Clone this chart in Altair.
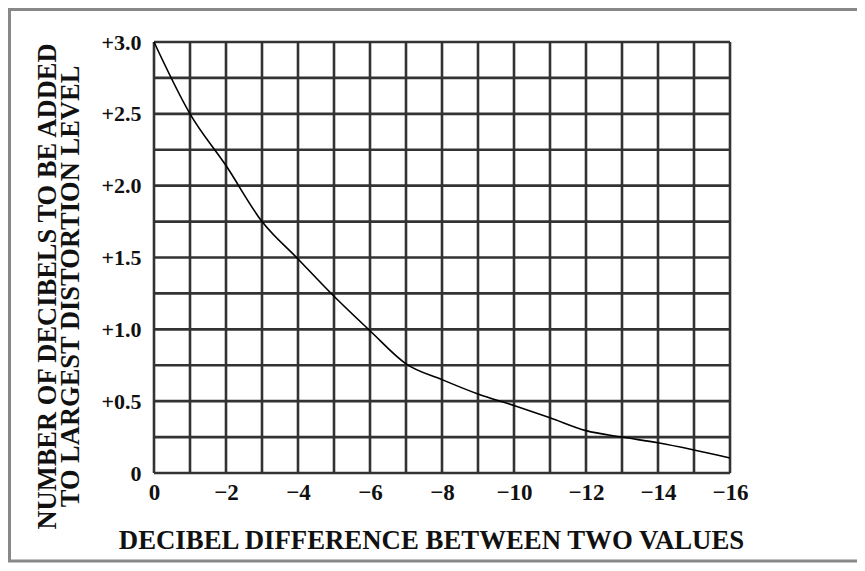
import altair as alt
import pandas as pd

# Curve values
diff_db = [0, -1, -2, -3, -4, -5, -6, -7, -8, -9, -10, -11, -12, -13, -14, -15, -16]
add_db = [3.0, 2.5, 2.14, 1.75, 1.49, 1.23, 0.99, 0.76, 0.65, 0.55, 0.47, 0.385, 0.295, 0.25, 0.21, 0.16, 0.105]

# Grid and tick labels
x_grid = [0, -1, -2, -3, -4, -5, -6, -7, -8, -9, -10, -11, -12, -13, -14, -15, -16]
y_grid = [0, 0.25, 0.5, 0.75, 1.0, 1.25, 1.5, 1.75, 2.0, 2.25, 2.5, 2.75, 3.0]
x_ticks = [0, -2, -4, -6, -8, -10, -12, -14, -16]
x_labels = ["0", "\u22122", "\u22124", "\u22126", "\u22128", "\u221210", "\u221212", "\u221214", "\u221216"]
y_ticks = [0, 0.5, 1.0, 1.5, 2.0, 2.5, 3.0]
y_labels = ["0", "+0.5", "+1.0", "+1.5", "+2.0", "+2.5", "+3.0"]

x_title = "DECIBEL DIFFERENCE BETWEEN TWO VALUES"
y_title = ["NUMBER OF DECIBELS TO BE ADDED", "TO LARGEST DISTORTION LEVEL"]

FONT = "Liberation Serif"
W, H = 576, 431


def label_expr(values, labels):
    expr = "''"
    for v, l in reversed(list(zip(values, labels))):
        expr = f"abs(datum.value - ({v})) < 1e-6 ? '{l}' : ({expr})"
    return expr


xscale = alt.Scale(domain=[-16, 0], reverse=True, nice=False, zero=False)
yscale = alt.Scale(domain=[0, 3.0], nice=False)

curve_df = pd.DataFrame({"d": diff_db, "a": add_db})

x_axis = alt.Axis(
    values=x_ticks, labelExpr=label_expr(x_ticks, x_labels), grid=False, ticks=False,
    domain=False, labelPadding=8, labelFont=FONT, labelFontWeight="bold", labelFontSize=23,
    labelColor="#111", title=x_title, titleFont=FONT, titleFontWeight="bold", titleFontSize=26.8,
    titleColor="#111", titleX=277, titleY=75, titleAlign="center", titleBaseline="alphabetic",
    labelFlush=False, labelOverlap=False,
)
y_axis = alt.Axis(
    values=y_ticks, labelExpr=label_expr(y_ticks, y_labels), grid=False, ticks=False,
    domain=False, labelPadding=13, labelFont=FONT, labelFontWeight="bold", labelFontSize=22,
    labelColor="#111", labelBaseline="middle", title=y_title, titleFont=FONT,
    titleFontWeight="bold", titleFontSize=26.5, titleColor="#111", titleAngle=270,
    titleX=-120, titleY=244, titleAlign="center", titleBaseline="top", titleLineHeight=23,
    labelFlush=False, labelOverlap=False,
)

vgrid = alt.Chart(pd.DataFrame({"d": x_grid})).mark_rule(
    color="#333333", strokeWidth=2.6
).encode(x=alt.X("d:Q", scale=xscale, axis=x_axis))

hgrid = alt.Chart(pd.DataFrame({"a": y_grid})).mark_rule(
    color="#333333", strokeWidth=2.6
).encode(y=alt.Y("a:Q", scale=yscale, axis=y_axis))

line = alt.Chart(curve_df).mark_line(
    color="#000", strokeWidth=1.6, interpolate="monotone"
).encode(
    x=alt.X("d:Q", scale=xscale, axis=x_axis),
    y=alt.Y("a:Q", scale=yscale, axis=y_axis),
)

frame = alt.Chart(pd.DataFrame({"k": [0]})).mark_rect(
    fill=None, stroke="#888", strokeWidth=3
).encode(
    x=alt.value(-144.5), x2=alt.value(W + 140),
    y=alt.value(-32.5), y2=alt.value(519),
)

chart = alt.layer(frame, vgrid, hgrid, line).properties(
    width=W, height=H,
    autosize=alt.AutoSizeParams(type="none"),
    padding={"left": 146, "top": 34, "right": 127, "bottom": 90},
).configure_view(stroke=None).configure(background="white")

chart.save("out.html", embed_options={"renderer": "svg", "actions": False})
